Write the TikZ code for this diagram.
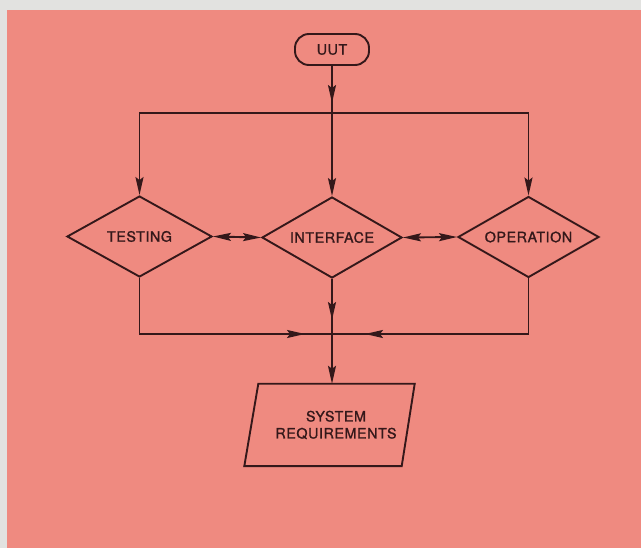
\documentclass[tikz,border=0pt]{standalone}
\usepackage{fontspec}
\setmainfont{TeX Gyre Heros}
\newfontfamily\stencilfont{TeX Gyre Heros}[FakeBold=1.2,LetterSpace=4]
\usetikzlibrary{shapes.geometric,arrows.meta}
\definecolor{chartbg}{RGB}{239,138,128}
\definecolor{chartframe}{RGB}{226,226,224}
\definecolor{chartink}{RGB}{52,24,26}

\begin{document}
\begin{tikzpicture}[x=1pt,y=-1pt,
    flow/.style={draw=chartink,line width=1.9pt},
    flowarrow/.style={flow,-{Stealth[length=18pt,width=8pt,inset=3pt]}},
    twoway/.style={flow,{Stealth[length=18pt,width=8pt,inset=3pt]}-{Stealth[length=18pt,width=8pt,inset=3pt]}},
    lettering/.style={text=chartink,font=\stencilfont\fontsize{14.3}{17}\selectfont},
    decision/.style={diamond,aspect=1.75,flow,lettering,minimum height=81pt,inner sep=0pt}]
  \useasboundingbox (0,0) rectangle (641,548);
  \fill[chartframe] (0,0) rectangle (641,548);
  \fill[chartbg] (7,10.5) rectangle (641,548);

  \node[flow,lettering,rounded corners=14pt,minimum width=74pt,minimum height=31pt] (uut) at (332,49.5) {UUT};
  \node[decision,minimum width=145pt] (testing) at (139.5,236.5) {TESTING};
  \node[decision,minimum width=140pt] (iface) at (332,237.5) {INTERFACE};
  \node[decision,minimum width=141pt] (oper) at (528.5,237) {OPERATION};
  \node[lettering,align=center,minimum width=157pt,minimum height=82pt] (req) at (336,425) {SYSTEM\\REQUIREMENTS};
  \draw[flow] ([xshift=1pt]req.north west) -- (req.north east) -- ([xshift=-13pt]req.south east) -- ([xshift=-13pt]req.south west) -- cycle;

  \coordinate (uutmid) at (332,103);
  \coordinate (bus) at (332,113);
  \coordinate (midhead) at (332,320);
  \coordinate (join) at (332,334);
  \coordinate (lefthead) at (305,334);
  \coordinate (righthead) at (365,334);

  \draw[flowarrow] (uut.south) -- (iface.north);
  \draw[flowarrow] (uut.south) -- (uutmid);
  \draw[flowarrow] (bus) -| (testing.north);
  \draw[flowarrow] (bus) -| (oper.north);
  \draw[twoway] (testing.east) -- (iface.west);
  \draw[twoway] (iface.east) -- (oper.west);
  \draw[flow] (testing.south) |- (join);
  \draw[flowarrow] (testing.south) |- (lefthead);
  \draw[flow] (oper.south) |- (join);
  \draw[flowarrow] (oper.south) |- (righthead);
  \draw[flow] (iface.south) -- (join);
  \draw[flowarrow] (iface.south) -- (midhead);
  \draw[flowarrow] (join) -- (req.north -| join);
\end{tikzpicture}
\end{document}
